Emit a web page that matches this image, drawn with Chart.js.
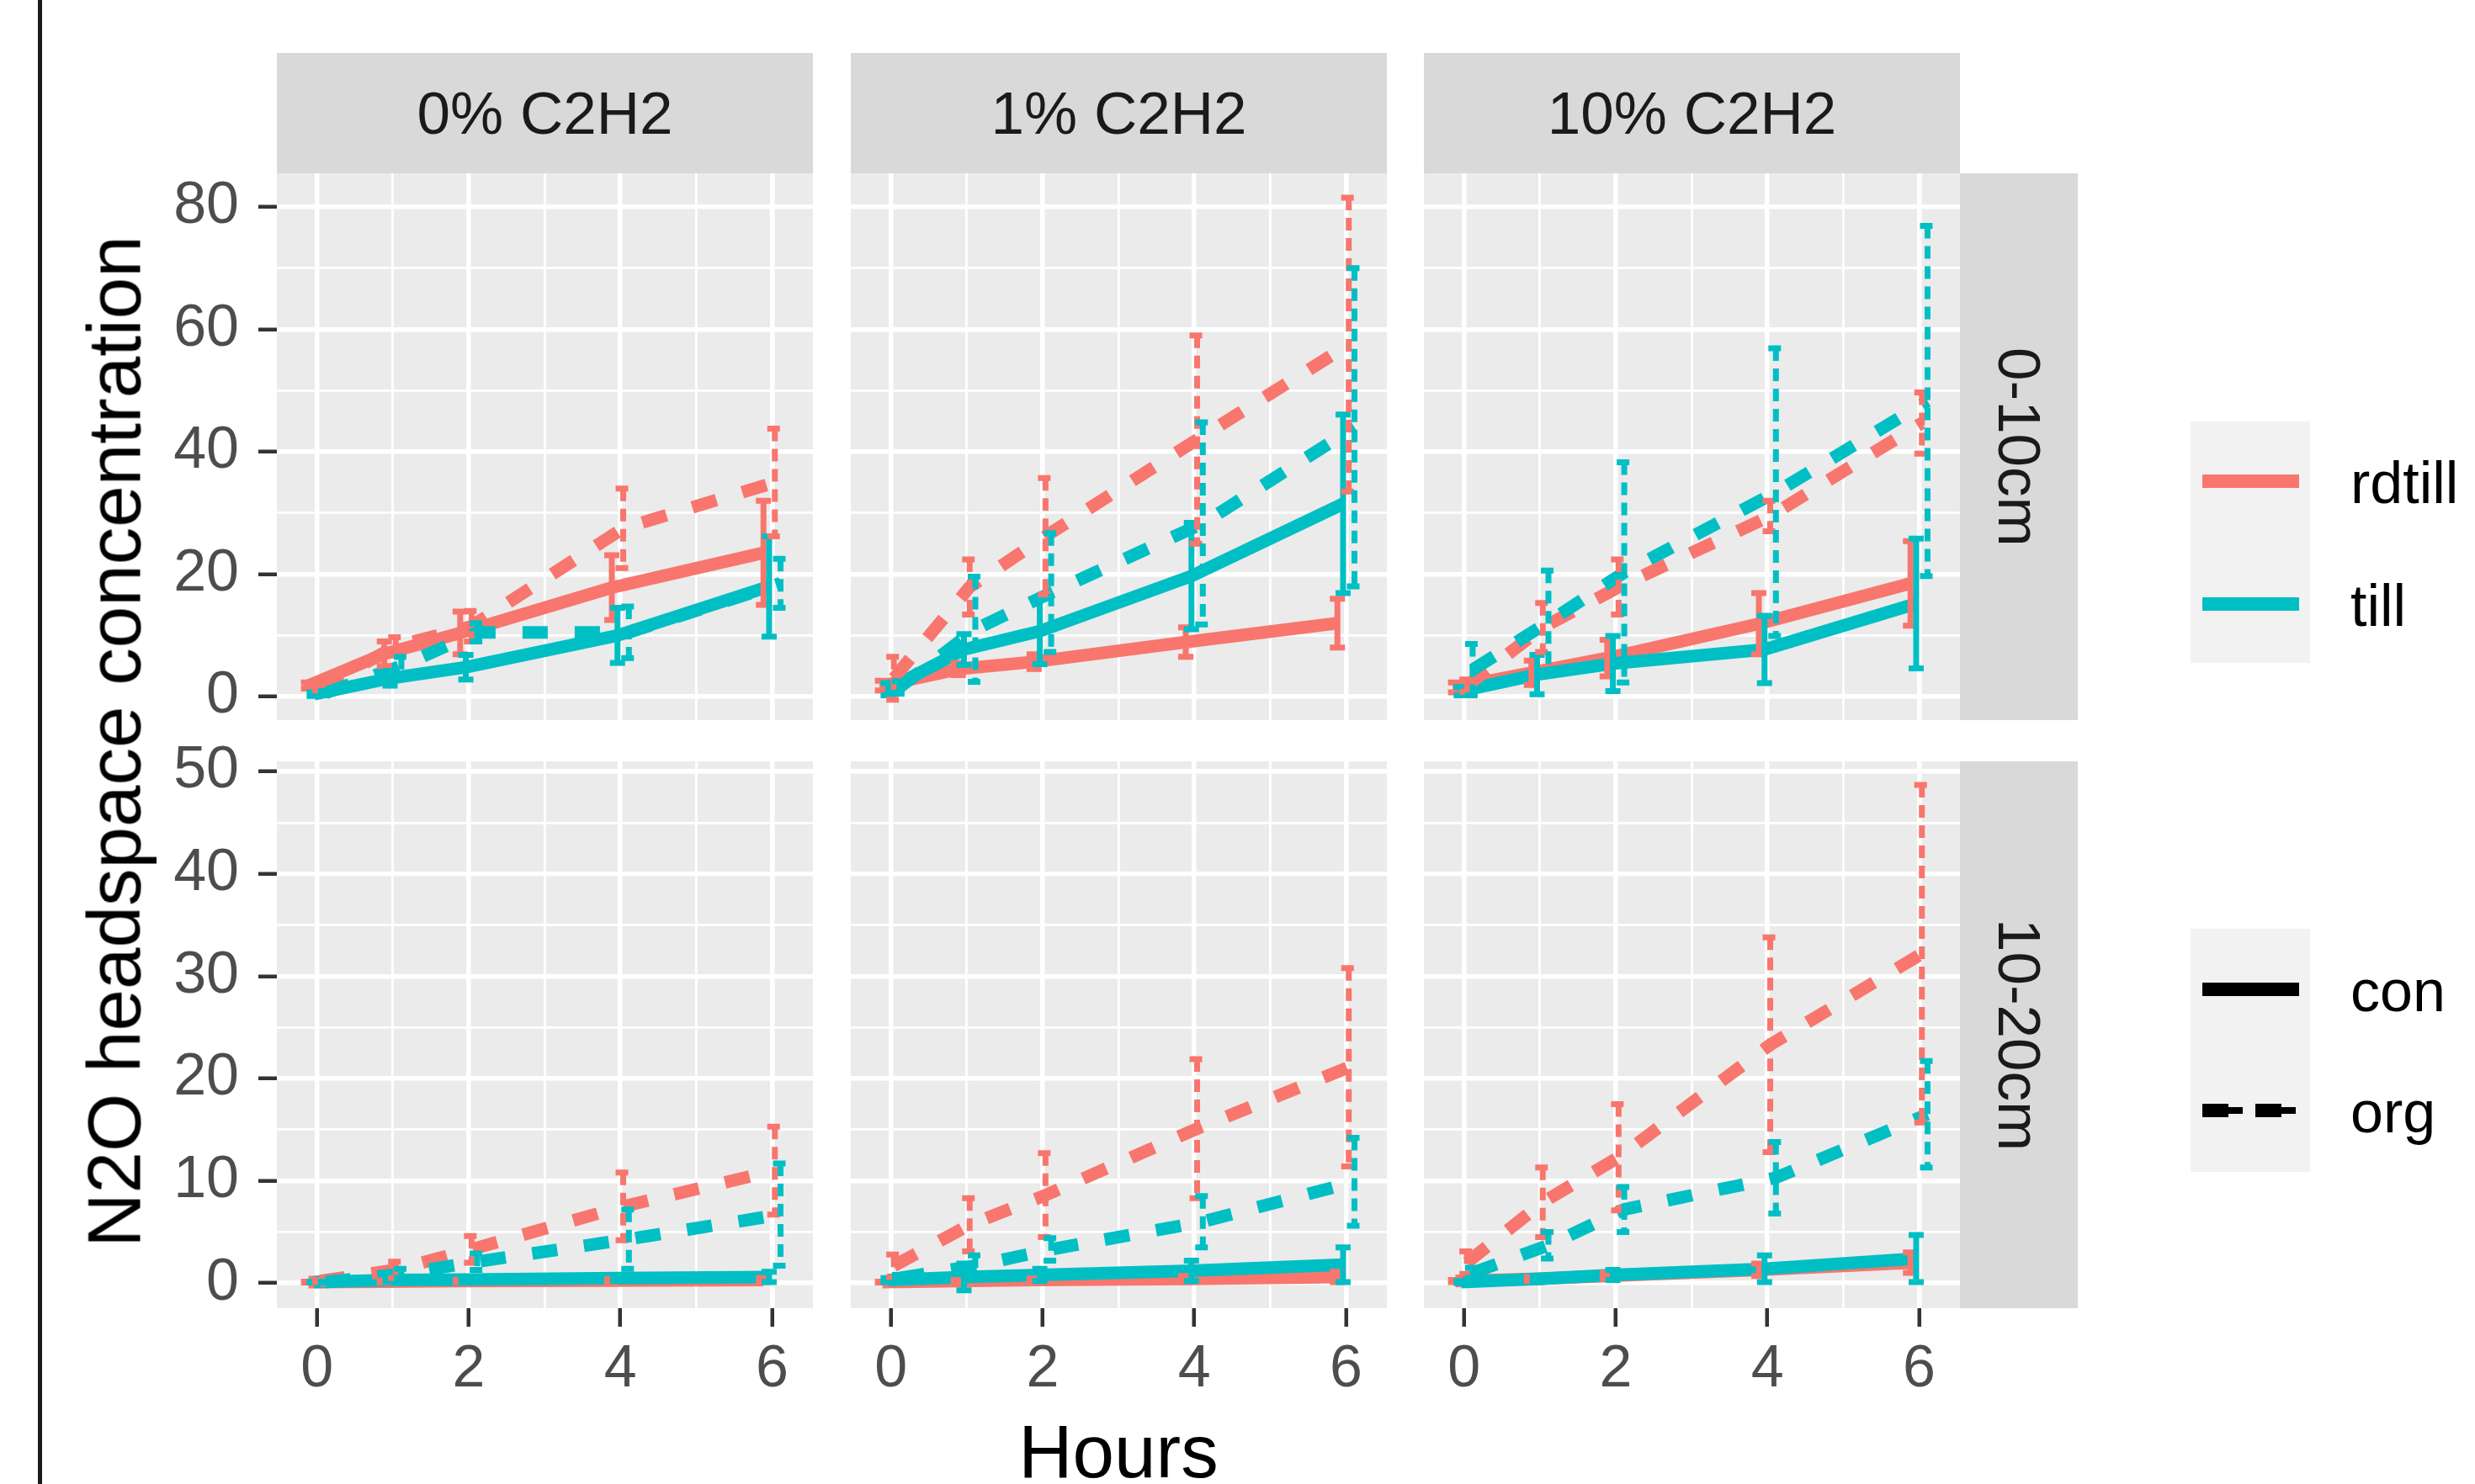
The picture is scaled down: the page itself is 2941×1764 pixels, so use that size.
<!DOCTYPE html>
<html>
<head>
<meta charset="utf-8">
<script src="https://cdn.jsdelivr.net/npm/chart.js@4.4.0/dist/chart.umd.min.js"></script>
<style>
html, body { margin: 0; padding: 0; background: #ffffff; }
body { width: 2941px; height: 1764px; position: relative; overflow: hidden; font-family: "Liberation Sans", Arial, sans-serif; }
canvas { position: absolute; }
.strip { position: absolute; background: #D9D9D9; color: #1A1A1A; font-size: 71px; display: flex; align-items: center; justify-content: center; white-space: nowrap; }
.vstrip { writing-mode: vertical-rl; }
.txt { position: absolute; white-space: nowrap; line-height: 1; }
.keybox { position: absolute; background: #F2F2F2; }
.key { position: absolute; }
</style>
</head>
<body>
<script>
// ---------------- DATA ----------------
const HOURS = [0, 1, 2, 4, 6];
const ACETYLENE = ['0% C2H2', '1% C2H2', '10% C2H2'];
const DEPTHS = ['0-10cm', '10-20cm'];
const TILLAGE = ['rdtill', 'till'];
const AMENDMENT = ['con', 'org'];
// series order inside each panel
const SERIES_TILLAGE = ['rdtill', 'till', 'rdtill', 'till'];
const SERIES_AMENDMENT = ['con', 'con', 'org', 'org'];

// 0-10cm depth, means [rdtill-con, till-con, rdtill-org, till-org]
const mean_0_10_c0  = [[1.8, 7.0, 10.4, 17.8, 23.5], [0.4, 3.0, 4.8, 10.0, 18.0], [1.5, 8.2, 11.5, 27.5, 35.0], [0.6, 5.0, 10.5, 10.5, 18.5]];
const se_0_10_c0    = [[0.5, 2.0, 3.5, 5.3, 8.5],    [0.3, 1.2, 2.0, 4.5, 8.2],    [0.5, 1.5, 2.5, 6.5, 8.8],     [0.3, 1.5, 1.5, 4.2, 4.0]];
const mean_0_10_c1  = [[1.8, 4.5, 5.7, 8.9, 12.0],   [1.2, 7.7, 10.7, 19.7, 31.5], [3.0, 17.9, 26.2, 42.0, 57.5], [1.5, 11.0, 17.0, 28.3, 44.0]];
const se_0_10_c1    = [[0.8, 1.0, 1.2, 2.4, 4.0],    [1.0, 2.5, 5.4, 8.7, 14.6],   [3.5, 4.5, 9.5, 17.0, 24.0],   [1.0, 8.6, 9.7, 16.5, 26.0]];
const mean_0_10_c10 = [[1.5, 3.9, 6.3, 11.9, 18.5],  [0.9, 3.6, 5.4, 7.7, 15.2],   [1.8, 11.3, 17.9, 29.5, 44.7], [4.4, 12.2, 20.3, 33.4, 48.3]];
const se_0_10_c10   = [[0.8, 2.0, 3.0, 5.0, 6.9],    [0.7, 3.2, 4.5, 5.5, 10.6],   [1.0, 4.0, 4.5, 2.5, 5.0],     [4.2, 8.4, 18.0, 23.5, 28.6]];

// 10-20cm depth
const mean_10_20_c0  = [[0.1, 0.15, 0.2, 0.25, 0.3], [0.1, 0.3, 0.35, 0.5, 0.6], [0.2, 1.3, 3.3, 7.5, 11.0],  [0.1, 0.9, 2.1, 4.3, 6.7]];
const se_10_20_c0    = [[0.05, 0.1, 0.1, 0.15, 0.2], [0.05, 0.15, 0.2, 0.3, 0.5], [0.1, 0.8, 1.3, 3.3, 4.3],  [0.05, 0.5, 0.8, 2.9, 5.0]];
const mean_10_20_c1  = [[0.1, 0.2, 0.3, 0.4, 0.6],   [0.3, 0.6, 0.8, 1.2, 1.8],   [1.7, 5.7, 8.6, 15.1, 21.1], [0.5, 1.7, 3.3, 6.0, 9.9]];
const se_10_20_c1    = [[0.05, 0.1, 0.15, 0.3, 0.5], [0.2, 1.3, 0.6, 1.0, 1.7],  [1.1, 2.6, 4.1, 6.8, 9.7],   [0.3, 1.0, 1.1, 2.5, 4.3]];
const mean_10_20_c10 = [[0.2, 0.4, 0.7, 1.3, 2.0],   [0.1, 0.4, 0.8, 1.4, 2.4],   [2.0, 7.9, 12.3, 23.3, 32.2], [1.0, 3.7, 7.2, 10.3, 16.5]];
const se_10_20_c10   = [[0.1, 0.2, 0.3, 0.6, 1.0],   [0.1, 0.3, 0.5, 1.3, 2.3],   [1.1, 3.4, 5.2, 10.5, 16.5], [0.5, 1.3, 2.2, 3.5, 5.2]];

// ticks
const X_TICKS = [0, 1, 2, 3, 4, 5, 6];
const X_LABELS = [0, 2, 4, 6];
const Y_TICKS_TOP = [0, 10, 20, 30, 40, 50, 60, 70, 80];
const Y_LABELS_TOP = [0, 20, 40, 60, 80];
const Y_TICKS_BOTTOM = [0, 5, 10, 15, 20, 25, 30, 35, 40, 45, 50];
const Y_LABELS_BOTTOM = [0, 10, 20, 30, 40, 50];

const X_TITLE = 'Hours';
const Y_TITLE = 'N2O headspace concentration';

// ---------------- STYLE / LAYOUT ----------------
const FONT = "'Liberation Sans', Arial, sans-serif";
const COLORS = { rdtill: '#F8766D', till: '#00BFC4' };
const DODGE = [-0.1125, -0.0375, 0.0375, 0.1125];
const X_RANGE = [-0.53, 6.54];
const Y_RANGE = [[-3.84, 85.5], [-2.45, 51.0]];
const PANEL_LEFT = [329, 1011, 1692];
const PANEL_TOP = [206, 905];
const PW = 637, PH = 650;
const LW = 280, BH = 200, TM = 60;
const LINE_W = 15, EB_W = 7, CAP = 9;
const LINE_DASH = [30, 32], EB_DASH = [15, 9];
const MAJOR_W = 5.5, MINOR_W = 2.8;

const bgPlugin = {
  id: 'panelBg',
  beforeDraw(chart) {
    const a = chart.chartArea, c = chart.ctx;
    c.save();
    c.fillStyle = '#EBEBEB';
    c.fillRect(a.left, a.top, a.right - a.left, a.bottom - a.top);
    c.restore();
  }
};

const errorBarPlugin = {
  id: 'errorBars',
  afterDatasetsDraw(chart) {
    const c = chart.ctx, a = chart.chartArea, xs = chart.scales.x, ys = chart.scales.y;
    c.save();
    c.beginPath();
    c.rect(a.left, a.top, a.right - a.left, a.bottom - a.top);
    c.clip();
    chart.data.datasets.forEach(ds => {
      c.strokeStyle = ds.borderColor;
      c.lineWidth = EB_W;
      c.lineCap = 'butt';
      c.lineJoin = 'round';
      c.setLineDash(ds.isOrg ? EB_DASH : []);
      ds.data.forEach((p, j) => {
        const px = xs.getPixelForValue(p.x);
        const t = ys.getPixelForValue(p.y + ds.se[j]);
        const b = ys.getPixelForValue(p.y - ds.se[j]);
        c.beginPath();
        c.moveTo(px - CAP, t); c.lineTo(px + CAP, t);
        c.moveTo(px, t); c.lineTo(px, b);
        c.moveTo(px - CAP, b); c.lineTo(px + CAP, b);
        c.stroke();
      });
    });
    c.restore();
  }
};

function makePanel(r, col, means, ses) {
  const showY = col === 0, showX = r === 1;
  const tm = showY ? TM : 0;
  const left = PANEL_LEFT[col] - (showY ? LW : 0);
  const top = PANEL_TOP[r] - tm;
  const w = PW + (showY ? LW : 0);
  const h = PH + tm + (showX ? BH : 0);
  const cv = document.createElement('canvas');
  cv.width = w; cv.height = h;
  cv.style.left = left + 'px'; cv.style.top = top + 'px';
  cv.style.width = w + 'px'; cv.style.height = h + 'px';
  document.body.appendChild(cv);

  const yTicks = r === 0 ? Y_TICKS_TOP : Y_TICKS_BOTTOM;
  const yLabels = r === 0 ? Y_LABELS_TOP : Y_LABELS_BOTTOM;

  const datasets = means.map((m, i) => ({
    label: SERIES_TILLAGE[i] + ' ' + SERIES_AMENDMENT[i],
    data: HOURS.map((hr, j) => ({ x: hr + DODGE[i], y: m[j] })),
    se: ses[i],
    isOrg: SERIES_AMENDMENT[i] === 'org',
    borderColor: COLORS[SERIES_TILLAGE[i]],
    backgroundColor: COLORS[SERIES_TILLAGE[i]],
    borderWidth: LINE_W,
    borderDash: SERIES_AMENDMENT[i] === 'org' ? LINE_DASH : [],
    borderCapStyle: 'butt',
    borderJoinStyle: 'round',
    pointRadius: 0,
    pointHoverRadius: 0,
    tension: 0,
    fill: false,
    order: 10 - i
  }));

  new Chart(cv, {
    type: 'line',
    data: { datasets },
    options: {
      responsive: false,
      animation: false,
      devicePixelRatio: 1,
      layout: { padding: { top: tm, left: 0, right: 0, bottom: 0 } },
      events: [],
      plugins: { legend: { display: false }, tooltip: { enabled: false } },
      scales: {
        x: {
          type: 'linear', position: 'bottom',
          min: X_RANGE[0], max: X_RANGE[1],
          afterBuildTicks: s => { s.ticks = X_TICKS.map(v => ({ value: v })); },
          afterFit: s => { s.height = showX ? BH : 0; s.paddingLeft = 0; s.paddingRight = 0; },
          ticks: {
            display: showX, autoSkip: false, maxRotation: 0, minRotation: 0, padding: 10,
            color: '#4D4D4D', font: { family: FONT, size: 70 },
            callback: v => X_LABELS.includes(v) ? String(v) : ''
          },
          grid: {
            color: '#FFFFFF',
            lineWidth: ctx => (ctx.tick && X_LABELS.includes(ctx.tick.value)) ? MAJOR_W : MINOR_W,
            drawTicks: showX, tickLength: 22, tickWidth: 4.5,
            tickColor: ctx => (ctx.tick && X_LABELS.includes(ctx.tick.value)) ? '#333333' : 'rgba(0,0,0,0)'
          },
          border: { display: false }
        },
        y: {
          type: 'linear', position: 'left',
          min: Y_RANGE[r][0], max: Y_RANGE[r][1],
          afterBuildTicks: s => { s.ticks = yTicks.map(v => ({ value: v })); },
          afterFit: s => { s.width = showY ? LW : 0; s.paddingTop = 0; s.paddingBottom = 0; },
          ticks: {
            display: showY, autoSkip: false, padding: 23,
            color: '#4D4D4D', font: { family: FONT, size: 70 },
            callback: v => yLabels.includes(v) ? String(v) : ''
          },
          grid: {
            color: '#FFFFFF',
            lineWidth: ctx => (ctx.tick && yLabels.includes(ctx.tick.value)) ? MAJOR_W : MINOR_W,
            drawTicks: showY, tickLength: 22, tickWidth: 4.5,
            tickColor: ctx => (ctx.tick && yLabels.includes(ctx.tick.value)) ? '#333333' : 'rgba(0,0,0,0)'
          },
          border: { display: false }
        }
      }
    },
    plugins: [bgPlugin, errorBarPlugin]
  });
}

const PANEL_MEANS = [[mean_0_10_c0, mean_0_10_c1, mean_0_10_c10], [mean_10_20_c0, mean_10_20_c1, mean_10_20_c10]];
const PANEL_SES = [[se_0_10_c0, se_0_10_c1, se_0_10_c10], [se_10_20_c0, se_10_20_c1, se_10_20_c10]];
for (let r = 0; r < 2; r++) for (let c = 0; c < 3; c++) makePanel(r, c, PANEL_MEANS[r][c], PANEL_SES[r][c]);

// ---------------- STRIPS, TITLES, LEGEND (DOM text) ----------------
function addDiv(cls, css, text) {
  const d = document.createElement('div');
  d.className = cls;
  Object.assign(d.style, css);
  if (text !== undefined) d.textContent = text;
  document.body.appendChild(d);
  return d;
}
ACETYLENE.forEach((lab, c) => addDiv('strip', { left: PANEL_LEFT[c] + 'px', top: '63px', width: PW + 'px', height: '143px' }, lab));
DEPTHS.forEach((lab, r) => addDiv('strip vstrip', { left: (PANEL_LEFT[2] + PW) + 'px', top: PANEL_TOP[r] + 'px', width: '140px', height: PH + 'px' }, lab));

// left border line
addDiv('key', { left: '45px', top: '0px', width: '5px', height: '1764px', background: '#1A1A1A' });

// axis titles
addDiv('txt', { left: '929px', top: '1681px', width: '800px', textAlign: 'center', fontSize: '89px', color: '#000' }, X_TITLE);
addDiv('txt', { left: (136 - 700) + 'px', top: (881 - 44) + 'px', width: '1400px', height: '89px', textAlign: 'center', fontSize: '89px', color: '#000', transform: 'rotate(-90deg)' }, Y_TITLE);

// legends
const KEY_X = 2617, KEY_W = 115, BOX_X = 2603, BOX_W = 142, TXT_X = 2793;
addDiv('keybox', { left: BOX_X + 'px', top: '501px', width: BOX_W + 'px', height: '287px' });
addDiv('keybox', { left: BOX_X + 'px', top: '1104px', width: BOX_W + 'px', height: '289px' });
const colourKeyY = [572, 718];
TILLAGE.forEach((t, i) => {
  addDiv('key', { left: KEY_X + 'px', top: (colourKeyY[i] - 8) + 'px', width: KEY_W + 'px', height: '16px', background: COLORS[t] });
  addDiv('txt', { left: TXT_X + 'px', top: (colourKeyY[i] + 26 - 59) + 'px', fontSize: '70px', color: '#000' }, t);
});
const typeKeyY = [1176, 1320];
AMENDMENT.forEach((a, i) => {
  if (a === 'con') {
    addDiv('key', { left: KEY_X + 'px', top: (typeKeyY[i] - 8) + 'px', width: KEY_W + 'px', height: '16px', background: '#000' });
  } else {
    addDiv('key', { left: KEY_X + 'px', top: (typeKeyY[i] - 4) + 'px', width: KEY_W + 'px', height: '8px', background: 'repeating-linear-gradient(to right, #000 0px, #000 48px, transparent 48px, transparent 63px)' });
    addDiv('key', { left: KEY_X + 'px', top: (typeKeyY[i] - 8) + 'px', width: KEY_W + 'px', height: '16px', background: 'repeating-linear-gradient(to right, #000 0px, #000 31px, transparent 31px, transparent 63px)' });
  }
  addDiv('txt', { left: TXT_X + 'px', top: (typeKeyY[i] + 26 - 59) + 'px', fontSize: '70px', color: '#000' }, a);
});
</script>
</body>
</html>
